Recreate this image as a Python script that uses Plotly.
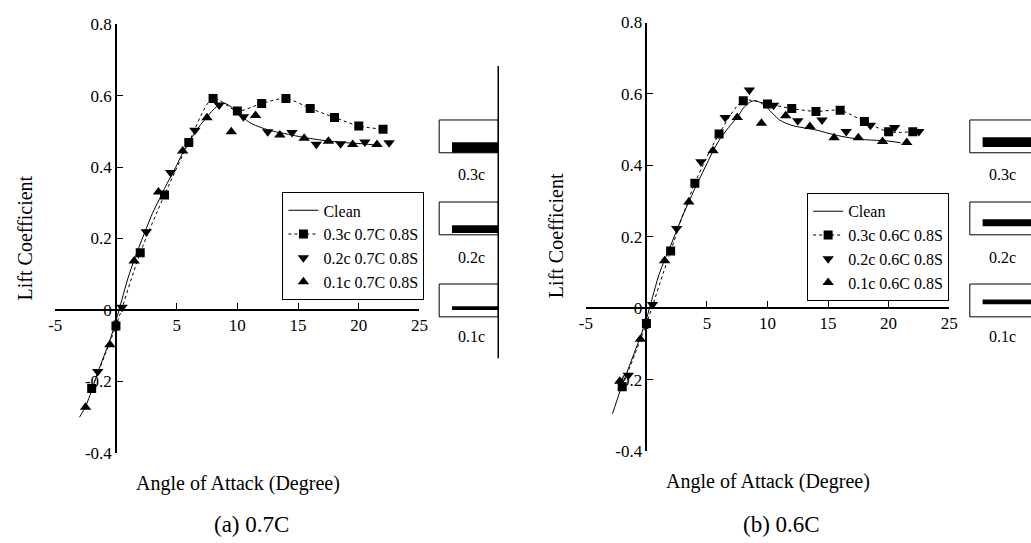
import plotly.graph_objects as go

W, H = 1031, 543

# ---------------- data : panel (a) 0.7C ----------------
clean_x_a = [-3, -2.5, -2, -1.5, -1, -0.5, 0, 0.5, 1, 1.5, 2, 3, 3.5, 4, 5, 5.5, 6, 7, 7.5, 8, 8.5, 9,
             9.5, 10, 11, 12, 13, 14, 15, 16, 17, 18, 19, 20, 21, 21.5]
clean_y_a = [-0.30, -0.27, -0.225, -0.175, -0.13, -0.085, -0.03, 0.03, 0.09, 0.14, 0.185, 0.27, 0.305,
             0.34, 0.405, 0.44, 0.47, 0.52, 0.54, 0.56, 0.574, 0.578, 0.568, 0.553, 0.525, 0.51, 0.50,
             0.493, 0.486, 0.48, 0.475, 0.471, 0.468, 0.466, 0.463, 0.462]
sq_x_a = [-2, 0, 2, 4, 6, 8, 10, 12, 14, 16, 18, 20, 22]
sq_y_a = [-0.22, -0.045, 0.16, 0.322, 0.469, 0.592, 0.557, 0.578, 0.592, 0.564, 0.539, 0.515, 0.506]
dn_x_a = [-1.5, 0.5, 2.5, 4.5, 6.5, 8.5, 10.5, 12.5, 14.5, 16.5, 18.5, 20.5, 22.5]
dn_y_a = [-0.172, 0.008, 0.219, 0.385, 0.503, 0.574, 0.541, 0.499, 0.497, 0.464, 0.465, 0.47, 0.468]
up_x_a = [-2.5, -0.5, 1.5, 3.5, 5.5, 7.5, 9.5, 11.5, 13.5, 15.5, 17.5, 19.5, 21.5]
up_y_a = [-0.272, -0.097, 0.137, 0.33, 0.445, 0.538, 0.499, 0.544, 0.49, 0.481, 0.472, 0.463, 0.463]
names_a = ["Clean", "0.3c 0.7C 0.8S", "0.2c 0.7C 0.8S", "0.1c 0.7C 0.8S"]

# ---------------- data : panel (b) 0.6C ----------------
clean_x_b = [-2.8, -2.5, -2, -1.5, -1, -0.5, 0, 0.5, 1, 1.5, 2, 3, 3.5, 4, 5, 5.5, 6, 7, 7.5, 8, 8.5, 9,
             9.5, 10, 11, 12, 13, 14, 15, 16, 17, 18, 19, 20, 21]
clean_y_b = [-0.296, -0.265, -0.215, -0.17, -0.125, -0.08, -0.03, 0.03, 0.09, 0.135, 0.175, 0.26, 0.297,
             0.335, 0.405, 0.44, 0.47, 0.515, 0.534, 0.56, 0.576, 0.581, 0.574, 0.56, 0.527, 0.512,
             0.505, 0.499, 0.49, 0.482, 0.476, 0.472, 0.47, 0.468, 0.463]
sq_x_b = [-2, 0, 2, 4, 6, 8, 10, 12, 14, 16, 18, 20, 22]
sq_y_b = [-0.22, -0.043, 0.16, 0.35, 0.488, 0.581, 0.572, 0.559, 0.551, 0.554, 0.523, 0.494, 0.494]
dn_x_b = [-1.5, 0.5, 2.5, 4.5, 6.5, 8.5, 10.5, 12.5, 14.5, 16.5, 18.5, 20.5, 22.5]
dn_y_b = [-0.188, 0.01, 0.223, 0.41, 0.534, 0.611, 0.568, 0.525, 0.527, 0.495, 0.512, 0.506, 0.495]
up_x_b = [-2.2, -0.5, 1.5, 3.5, 5.5, 7.5, 9.5, 11.5, 13.5, 15.5, 17.5, 19.5, 21.5]
up_y_b = [-0.205, -0.087, 0.133, 0.297, 0.441, 0.534, 0.518, 0.539, 0.509, 0.477, 0.477, 0.467, 0.464]
names_b = ["Clean", "0.3c 0.6C 0.8S", "0.2c 0.6C 0.8S", "0.1c 0.6C 0.8S"]

# ---------------- tick labels / texts ----------------
x_tickvals = [-5, 0, 5, 10, 15, 20, 25]
x_ticktext = ["-5", "0", "5", "10", "15", "20", "25"]
y_tickvals = [-0.4, -0.2, 0, 0.2, 0.4, 0.6, 0.8]
y_ticktext = ["-0.4", "-0.2", "0", "0.2", "0.4", "0.6", "0.8"]
x_range = [-5, 25]
y_range = [-0.4, 0.8]
ytitle = "Lift Coefficient"
xtitle = "Angle of Attack (Degree)"
captions = ["(a) 0.7C", "(b) 0.6C"]
schem_labels = ["0.3c", "0.2c", "0.1c"]

SERIF = "Liberation Serif, Times New Roman, DejaVu Serif, serif"


def px(x):
    return x / W


def py(y):
    return 1 - y / H


fig = go.Figure()


def add_panel(suffix, legend, cx, cy, sx, sy, dx, dy, ux, uy, names):
    xa = "x" + suffix
    ya = "y" + suffix
    fig.add_trace(go.Scatter(x=cx, y=cy, mode="lines", name=names[0], xaxis=xa, yaxis=ya,
                             line=dict(color="black", width=1, shape="spline", smoothing=0.8),
                             legend=legend))
    fig.add_trace(go.Scatter(x=sx, y=sy, mode="lines+markers", name=names[1], xaxis=xa, yaxis=ya,
                             line=dict(color="black", width=1, dash="dot", shape="spline", smoothing=0.8),
                             marker=dict(symbol="square", size=9, color="black"), legend=legend))
    fig.add_trace(go.Scatter(x=dx, y=dy, mode="markers", name=names[2], xaxis=xa, yaxis=ya,
                             marker=dict(symbol="triangle-down", size=10, color="black"), legend=legend))
    fig.add_trace(go.Scatter(x=ux, y=uy, mode="markers", name=names[3], xaxis=xa, yaxis=ya,
                             marker=dict(symbol="triangle-up", size=10, color="black"), legend=legend))


add_panel("", "legend", clean_x_a, clean_y_a, sq_x_a, sq_y_a, dn_x_a, dn_y_a, up_x_a, up_y_a, names_a)
add_panel("2", "legend2", clean_x_b, clean_y_b, sq_x_b, sq_y_b, dn_x_b, dn_y_b, up_x_b, up_y_b, names_b)

# domains (pixel positions of axis ends)
dom_a_x = [px(49), px(419)]
dom_a_y = [py(460), py(15.7)]
dom_b_x = [px(588), px(957)]
dom_b_y = [py(458), py(14)]


def zero_pos(dom, rng):
    return dom[0] + (0 - rng[0]) / (rng[1] - rng[0]) * (dom[1] - dom[0])


tickfont = dict(family=SERIF, size=17, color="black")


def xaxis_cfg(dom, ydom):
    return dict(domain=dom, range=x_range, anchor="free", position=zero_pos(ydom, y_range),
                showline=True, linecolor="black", linewidth=1.5, ticks="inside", ticklen=6,
                tickwidth=1.2, tickcolor="black", tickvals=x_tickvals, ticktext=x_ticktext,
                tickfont=tickfont, showgrid=False, zeroline=False, fixedrange=True)


def yaxis_cfg(dom, xdom):
    return dict(domain=dom, range=y_range, anchor="free", position=zero_pos(xdom, x_range),
                showline=True, linecolor="black", linewidth=1.5, ticks="inside", ticklen=6,
                tickwidth=1.2, tickcolor="black", tickvals=y_tickvals, ticktext=y_ticktext,
                tickfont=tickfont, showgrid=False, zeroline=False, fixedrange=True)


legend_style = dict(bgcolor="white", bordercolor="black", borderwidth=1,
                    font=dict(family=SERIF, size=16, color="black"),
                    xanchor="right", yanchor="top", tracegroupgap=0, itemwidth=30)

annotations = []
titlefont = dict(family=SERIF, size=20, color="black")
for (ytx, yty, xtx, xty) in [(18, 237, 234.5, 492), (557, 235, 773, 490)]:
    annotations.append(dict(x=px(ytx), y=py(yty), xref="paper", yref="paper", text=ytitle,
                            textangle=-90, showarrow=False, font=titlefont,
                            xanchor="center", yanchor="middle"))
    annotations.append(dict(x=px(xtx), y=py(xty), xref="paper", yref="paper", text=xtitle,
                            showarrow=False, font=titlefont, xanchor="center", yanchor="middle"))
for capx, cap in zip([248, 787], captions):
    annotations.append(dict(x=px(capx), y=py(534), xref="paper", yref="paper", text=cap,
                            showarrow=False, font=dict(family=SERIF, size=23, color="black"),
                            xanchor="center", yanchor="middle"))

# schematic (flap sketches)
shapes = []
box_tops = [115, 200, 285]
box_h = 34
label_y = [172, 257, 339]
# left sketch: bars at bottom of box
left_bars = [(138, 149), (224, 232), (308, 312)]
shapes.append(dict(type="line", xref="paper", yref="paper", x0=px(499), x1=px(499),
                   y0=py(59), y1=py(362), line=dict(color="black", width=1.5)))
for i, top in enumerate(box_tops):
    shapes.append(dict(type="rect", xref="paper", yref="paper", x0=px(439), x1=px(499),
                       y0=py(top + box_h), y1=py(top), line=dict(color="black", width=1)))
    b0, b1 = left_bars[i]
    shapes.append(dict(type="rect", xref="paper", yref="paper", x0=px(452), x1=px(499),
                       y0=py(b1), y1=py(b0), fillcolor="black", line=dict(width=0)))
    annotations.append(dict(x=px(472), y=py(label_y[i]), xref="paper", yref="paper",
                            text=schem_labels[i], showarrow=False,
                            font=dict(family=SERIF, size=16, color="black"),
                            xanchor="center", yanchor="middle"))
# right sketch: bars centred, cut by image edge
right_bars = [(133, 143), (218, 225), (301, 306)]
for i, top in enumerate(box_tops):
    shapes.append(dict(type="rect", xref="paper", yref="paper", x0=px(978), x1=px(1045),
                       y0=py(top + box_h), y1=py(top), line=dict(color="black", width=1)))
    b0, b1 = right_bars[i]
    shapes.append(dict(type="rect", xref="paper", yref="paper", x0=px(991), x1=px(1045),
                       y0=py(b1), y1=py(b0), fillcolor="black", line=dict(width=0)))
    annotations.append(dict(x=px(1011), y=py(label_y[i]), xref="paper", yref="paper",
                            text=schem_labels[i], showarrow=False,
                            font=dict(family=SERIF, size=16, color="black"),
                            xanchor="center", yanchor="middle"))

fig.update_layout(
    width=W, height=H, margin=dict(l=0, r=0, t=0, b=0),
    paper_bgcolor="white", plot_bgcolor="white",
    xaxis=xaxis_cfg(dom_a_x, dom_a_y), yaxis=yaxis_cfg(dom_a_y, dom_a_x),
    xaxis2=xaxis_cfg(dom_b_x, dom_b_y), yaxis2=yaxis_cfg(dom_b_y, dom_b_x),
    legend=dict(x=px(424), y=py(190), **legend_style),
    legend2=dict(x=px(957), y=py(191), **legend_style),
    annotations=annotations, shapes=shapes,
    font=dict(family=SERIF, color="black"),
)

fig.write_html("out.html")
